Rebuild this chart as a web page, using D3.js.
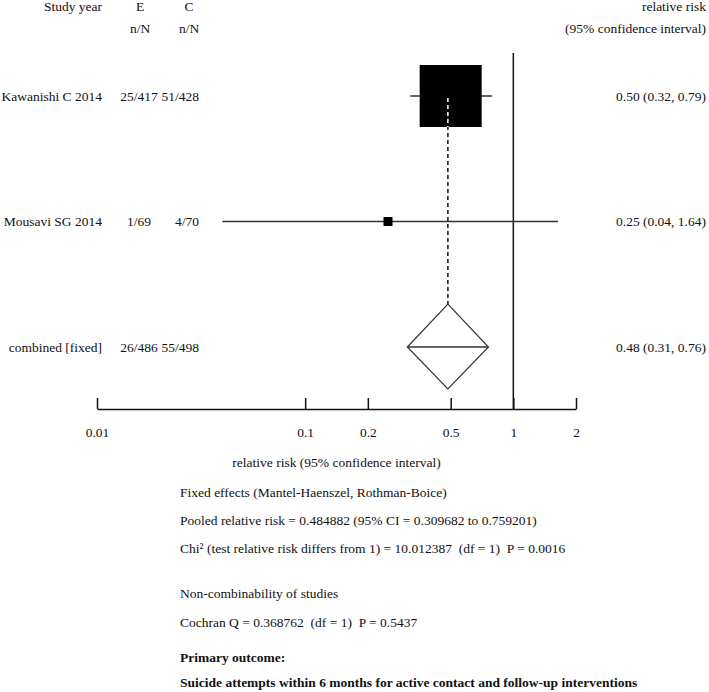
<!DOCTYPE html>
<html>
<head>
<meta charset="utf-8">
<script src="https://cdn.jsdelivr.net/npm/d3@7"></script>
<style>
  body { margin: 0; background: #fff; }
  svg text { font-family: "Liberation Serif", "Times New Roman", serif; font-size: 13.5px; fill: #111; white-space: pre; }
</style>
</head>
<body>
<div id="chart"></div>
<script>
// study rows
var studies = ["Kawanishi C 2014", "Mousavi SG 2014"]
var nE = ["25/417", "1/69"]
var nC = ["51/428", "4/70"]
var rr = [0.50, 0.25]
var lo = [0.32, 0.04]
var hi = [0.79, 1.64]
var weight = [92.7, 7.3]   // % weight (MH)
var rrLabels = ["0.50 (0.32, 0.79)", "0.25 (0.04, 1.64)"]

// pooled
var pooledLabel = "combined [fixed]"
var pooledE = "26/486", pooledC = "55/498"
var pooled = [0.484882, 0.309682, 0.759201]
var pooledText = "0.48 (0.31, 0.76)"

var ticks = [0.01, 0.1, 0.2, 0.5, 1, 2]
var tickLabels = ["0.01", "0.1", "0.2", "0.5", "1", "2"]

var fixedNotes = [
  "Fixed effects (Mantel-Haenszel, Rothman-Boice)",
  "Pooled relative risk = 0.484882 (95% CI = 0.309682 to 0.759201)",
  "Chi\u00b2 (test relative risk differs from 1) = 10.012387  (df = 1)  P = 0.0016"
]
var hetNotes = [
  "Non-combinability of studies",
  "Cochran Q = 0.368762  (df = 1)  P = 0.5437"
]
var outcome = ["Primary outcome:", "Suicide attempts within 6 months for active contact and follow-up interventions"]

var width = 709, height = 692
var font = "'Liberation Serif', 'Times New Roman', serif"

var svg = d3.select("#chart").append("svg")
    .attr("width", width)
    .attr("height", height)

var x = d3.scaleLog().domain([0.01, 2]).range([97, 576])
var y = d3.scalePoint().domain(studies.concat([pooledLabel])).range([96, 347])
var size = d3.scaleLinear().domain([7.3, 92.7]).range([9, 62])
var axisY = 409

// headers
var hdr = svg.append("g")
hdr.append("text").attr("x", 102).attr("y", 11).attr("text-anchor", "end").text("Study year")
hdr.append("text").attr("x", 140).attr("y", 11).attr("text-anchor", "middle").text("E")
hdr.append("text").attr("x", 189).attr("y", 11).attr("text-anchor", "middle").text("C")
hdr.append("text").attr("x", 140).attr("y", 33).attr("text-anchor", "middle").text("n/N")
hdr.append("text").attr("x", 189).attr("y", 33).attr("text-anchor", "middle").text("n/N")
hdr.append("text").attr("x", 706).attr("y", 11).attr("text-anchor", "end").text("relative risk")
hdr.append("text").attr("x", 706).attr("y", 33).attr("text-anchor", "end").text("(95% confidence interval)")

// line of no effect
svg.append("line")
    .attr("x1", x(1)).attr("x2", x(1))
    .attr("y1", 53).attr("y2", axisY)
    .attr("stroke", "#111").attr("stroke-width", 1.5)

// row text
var rows = studies.map(function(s, i) {
  return {name: s, e: nE[i], c: nC[i], label: rrLabels[i]}
})
rows.push({name: pooledLabel, e: pooledE, c: pooledC, label: pooledText})

var rowG = svg.selectAll(".row").data(rows).enter().append("g")
    .attr("transform", function(d) { return "translate(0," + (y(d.name) + 4.5) + ")" })
rowG.append("text").attr("x", 102).attr("text-anchor", "end").text(function(d) { return d.name })
rowG.append("text").attr("x", 139).attr("text-anchor", "middle").text(function(d) { return d.e })
rowG.append("text").attr("x", 199).attr("text-anchor", "end").text(function(d) { return d.c })
rowG.append("text").attr("x", 706).attr("text-anchor", "end").text(function(d) { return d.label })

// dashed line at pooled estimate
var dashTop = y(studies[0]) + 2, dashBot = y(pooledLabel) - 43
svg.append("line")
    .attr("x1", x(pooled[0])).attr("x2", x(pooled[0]))
    .attr("y1", dashTop).attr("y2", dashBot)
    .attr("stroke", "#111").attr("stroke-width", 1.5)
    .attr("stroke-dasharray", "4,3")

// CI whiskers
svg.selectAll(".ci").data(studies).enter().append("line")
    .attr("x1", function(d, i) { return x(lo[i]) })
    .attr("x2", function(d, i) { return x(hi[i]) })
    .attr("y1", function(d) { return y(d) })
    .attr("y2", function(d) { return y(d) })
    .attr("stroke", "#333").attr("stroke-width", 1.5)

// weight boxes
svg.selectAll(".box").data(studies).enter().append("rect")
    .attr("x", function(d, i) { return x(rr[i]) - size(weight[i]) / 2 })
    .attr("y", function(d, i) { return y(d) - size(weight[i]) / 2 })
    .attr("width", function(d, i) { return size(weight[i]) })
    .attr("height", function(d, i) { return size(weight[i]) })
    .attr("fill", "#000")

// dashes show white through the big box
var s0 = size(weight[0])
svg.append("line")
    .attr("x1", x(pooled[0])).attr("x2", x(pooled[0]))
    .attr("y1", dashTop).attr("y2", y(studies[0]) + s0 / 2)
    .attr("stroke", "#fff").attr("stroke-width", 1.5)
    .attr("stroke-dasharray", "4,3")

// pooled diamond
var py = y(pooledLabel)
svg.append("path")
    .attr("d", "M" + x(pooled[1]) + "," + py +
               "L" + x(pooled[0]) + "," + (py - 43) +
               "L" + x(pooled[2]) + "," + py +
               "L" + x(pooled[0]) + "," + (py + 42) + "Z")
    .attr("fill", "none").attr("stroke", "#333").attr("stroke-width", 1.2)
svg.append("line")
    .attr("x1", x(pooled[1])).attr("x2", x(pooled[2]))
    .attr("y1", py).attr("y2", py)
    .attr("stroke", "#333").attr("stroke-width", 1.5)

// axis, ticks pointing up
var xAxis = d3.axisBottom(x)
    .tickValues(ticks)
    .tickFormat(function(d, i) { return tickLabels[i] })
    .tickSizeInner(-11)
    .tickSizeOuter(0)
    .tickPadding(18)

var ax = svg.append("g")
    .attr("transform", "translate(0," + axisY + ")")
    .call(xAxis)
ax.select(".domain").attr("stroke", "#111").attr("stroke-width", 1.5)
ax.selectAll(".tick line").attr("stroke", "#111").attr("stroke-width", 1.5)
ax.selectAll(".tick text").attr("fill", "#111")

svg.append("text")
    .attr("x", (x.range()[0] + x.range()[1]) / 2).attr("y", 467)
    .attr("text-anchor", "middle")
    .text("relative risk (95% confidence interval)")

// summary statistics
svg.selectAll(".fixed").data(fixedNotes).enter().append("text")
    .attr("x", 180)
    .attr("y", function(d, i) { return 497 + i * 28 })
    .text(function(d) { return d })

svg.selectAll(".het").data(hetNotes).enter().append("text")
    .attr("x", 180)
    .attr("y", function(d, i) { return 598 + i * 29 })
    .text(function(d) { return d })

svg.selectAll(".outcome").data(outcome).enter().append("text")
    .attr("x", 180)
    .attr("y", function(d, i) { return 662 + i * 25 })
    .style("font-weight", "bold")
    .text(function(d) { return d })
</script>
</body>
</html>
